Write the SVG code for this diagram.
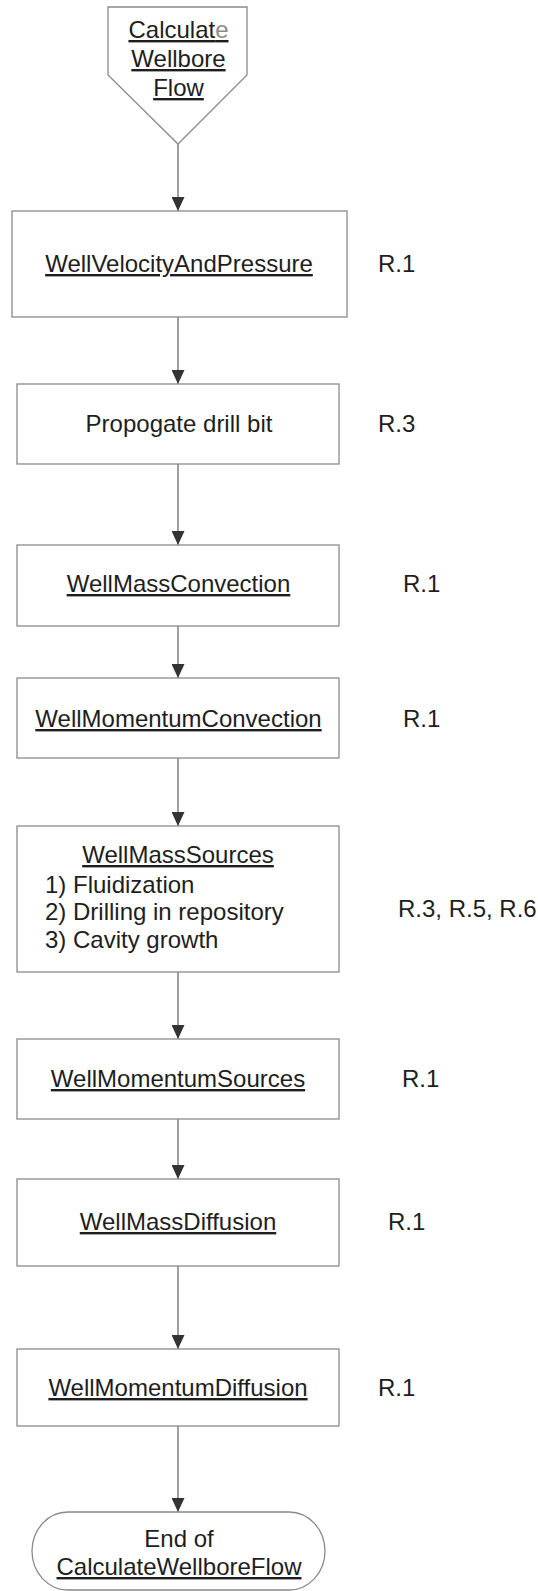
<svg xmlns="http://www.w3.org/2000/svg" width="538" height="1591" viewBox="0 0 538 1591">
<style>
.box{fill:#fff;stroke:#8a8a8a;stroke-width:1.3}
.t{font-family:"Liberation Sans",Arial,sans-serif;font-size:24px;fill:#1e1e1e}
.c{text-anchor:middle}
.u{text-decoration:underline}
.conn{stroke:#6a6a6a;stroke-width:1.3;fill:none}
</style>
<defs>
<marker id="ah" viewBox="0 0 14 13" refX="14" refY="6.5" markerWidth="14" markerHeight="13" orient="auto" markerUnits="userSpaceOnUse">
<path d="M0,0 L14,6.5 L0,13 z" fill="#333"/>
</marker>
</defs>
<rect width="538" height="1591" fill="#fff"/>
<g id="connectors">
<line class="conn" x1="178" y1="144" x2="178" y2="211" marker-end="url(#ah)"/>
<line class="conn" x1="178" y1="317" x2="178" y2="384" marker-end="url(#ah)"/>
<line class="conn" x1="178" y1="464" x2="178" y2="545" marker-end="url(#ah)"/>
<line class="conn" x1="178" y1="626" x2="178" y2="678" marker-end="url(#ah)"/>
<line class="conn" x1="178" y1="758" x2="178" y2="826" marker-end="url(#ah)"/>
<line class="conn" x1="178" y1="972" x2="178" y2="1039" marker-end="url(#ah)"/>
<line class="conn" x1="178" y1="1119" x2="178" y2="1179" marker-end="url(#ah)"/>
<line class="conn" x1="178" y1="1266" x2="178" y2="1349" marker-end="url(#ah)"/>
<line class="conn" x1="178" y1="1426" x2="178" y2="1512" marker-end="url(#ah)"/>
</g>
<g id="start">
<path class="box" d="M108,7 L247,7 L247,75 L178,144 L108,75 Z"/>
<text class="t c u" x="178.5" y="38">Calculat<tspan fill="#8a8a8a">e</tspan></text>
<text class="t c u" x="178.5" y="67">Wellbore</text>
<text class="t c u" x="178.5" y="96">Flow</text>
</g>
<g id="n1">
<rect class="box" x="12" y="211" width="335" height="106"/>
<text class="t c u" x="179" y="272">WellVelocityAndPressure</text>
<text class="t" x="378" y="272">R.1</text>
</g>
<g id="n2">
<rect class="box" x="17" y="384" width="322" height="80"/>
<text class="t c" x="179" y="432">Propogate drill bit</text>
<text class="t" x="378" y="432">R.3</text>
</g>
<g id="n3">
<rect class="box" x="17" y="545" width="322" height="81"/>
<text class="t c u" x="178.5" y="592">WellMassConvection</text>
<text class="t" x="403" y="592">R.1</text>
</g>
<g id="n4">
<rect class="box" x="17" y="678" width="322" height="80"/>
<text class="t c u" x="178.5" y="727">WellMomentumConvection</text>
<text class="t" x="403" y="727">R.1</text>
</g>
<g id="n5">
<rect class="box" x="17" y="826" width="322" height="146"/>
<text class="t c u" x="178" y="863">WellMassSources</text>
<text class="t" x="45" y="893">1) Fluidization</text>
<text class="t" x="45" y="920">2) Drilling in repository</text>
<text class="t" x="45" y="948">3) Cavity growth</text>
<text class="t" x="398" y="917">R.3, R.5, R.6</text>
</g>
<g id="n6">
<rect class="box" x="17" y="1039" width="322" height="80"/>
<text class="t c u" x="178" y="1087">WellMomentumSources</text>
<text class="t" x="402" y="1087">R.1</text>
</g>
<g id="n7">
<rect class="box" x="17" y="1179" width="322" height="87"/>
<text class="t c u" x="178" y="1230">WellMassDiffusion</text>
<text class="t" x="388" y="1230">R.1</text>
</g>
<g id="n8">
<rect class="box" x="17" y="1349" width="322" height="77"/>
<text class="t c u" x="178" y="1396">WellMomentumDiffusion</text>
<text class="t" x="378" y="1396">R.1</text>
</g>
<g id="end">
<rect class="box" x="32" y="1512" width="293" height="78" rx="36" ry="39"/>
<text class="t c" x="179" y="1547">End of</text>
<text class="t c u" x="179" y="1575">CalculateWellboreFlow</text>
</g>
</svg>
